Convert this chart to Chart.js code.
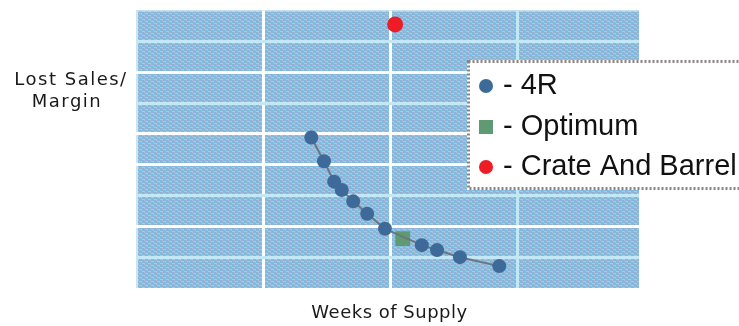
<!DOCTYPE html>
<html><head><meta charset="utf-8">
<style>html,body{margin:0;padding:0;background:#fff;overflow:hidden}#wrap{width:739px;height:326px;position:relative}</style>
<script src="https://cdn.jsdelivr.net/npm/chart.js@4/dist/chart.umd.min.js"></script>
</head><body><div id="wrap"><canvas id="c" width="739" height="326"></canvas></div>
<script>
const seriesNames = ['4R', 'Optimum', 'Crate And Barrel'];
const weeks4R = [1.38, 1.48, 1.56, 1.62, 1.71, 1.82, 1.96, 2.25, 2.37, 2.55, 2.86];
const lost4R  = [4.88, 4.11, 3.45, 3.18, 2.81, 2.41, 1.92, 1.39, 1.23, 1.00, 0.71];
const weeksOptimum = [2.10];
const lostOptimum  = [1.60];
const weeksCrate = [2.04];
const lostCrate  = [8.55];
const xTitle = 'Weeks of Supply';
const yTitleLines = ['Lost Sales/', 'Margin'];

const toPts = (xs, ys) => xs.map((x, i) => ({x: x, y: ys[i]}));

function makePattern(ctx) {
  const p = document.createElement('canvas');
  p.width = 6; p.height = 4;
  const g = p.getContext('2d');
  g.fillStyle = '#84b8da'; g.fillRect(0, 0, 6, 4);
  g.fillStyle = '#94d3ee';
  g.fillRect(1, 1, 3, 1); g.fillRect(4, 3, 2, 1); g.fillRect(0, 3, 1, 1);
  g.fillStyle = '#b5b6d6';
  g.fillRect(0, 0, 1, 1); g.fillRect(3, 2, 1, 1);
  return ctx.createPattern(p, 'repeat');
}

const WHITE = '#ffffff', LIGHT = '#c4e7f6';
const xGrid = {1: WHITE, 2: WHITE, 3: LIGHT};
const yGrid = {1: LIGHT, 2: WHITE, 3: LIGHT, 4: WHITE, 5: WHITE, 6: LIGHT, 7: WHITE, 8: LIGHT};

const background = {
  id: 'background',
  beforeDraw(chart) {
    const {ctx, chartArea: a} = chart;
    ctx.save();
    ctx.fillStyle = makePattern(ctx);
    ctx.fillRect(a.left, a.top, a.right - a.left, a.bottom - a.top);
    ctx.fillStyle = LIGHT;
    ctx.fillRect(a.left, a.top, 2, a.bottom - a.top);
    ctx.fillRect(a.left, a.top, a.right - a.left, 1);
    ctx.restore();
  }
};

const overlay = {
  id: 'overlay',
  afterDraw(chart) {
    const {ctx, chartArea: a} = chart;
    ctx.save();
    ctx.fillStyle = '#1a1a1a';
    ctx.textBaseline = 'alphabetic';
    ctx.textAlign = 'center';
    ctx.font = '18px "DejaVu Sans"';
    ctx.letterSpacing = '0.5px';
    ctx.fillText(xTitle, (a.left + a.right) / 2 + 2, 318);
    ctx.letterSpacing = '1.5px';
    ctx.fillText(yTitleLines[0], 71, 85);
    ctx.fillText(yTitleLines[1], 67, 107);
    ctx.letterSpacing = '0px';

    // legend box
    const bx = 467, by = 60, bw = 280, bh = 130;
    ctx.fillStyle = '#ffffff';
    ctx.fillRect(bx, by, bw, bh);
    ctx.setLineDash([2, 2]);
    ctx.lineWidth = 3;
    ctx.strokeStyle = '#8c8484';
    ctx.strokeRect(bx + 1.5, by + 1.5, bw, bh - 3);
    ctx.setLineDash([]);

    const rows = [86, 127, 167];
    ctx.font = '29px "Liberation Sans"';
    ctx.textAlign = 'left';
    chart.data.datasets.forEach((ds, i) => {
      const y = rows[i];
      ctx.fillStyle = ds.pointBackgroundColor;
      ctx.beginPath();
      if (ds.pointStyle === 'rect') {
        ctx.rect(486 - 7, y - 7, 14, 14);
      } else {
        ctx.arc(486, y, 7, 0, Math.PI * 2);
      }
      ctx.fill();
      ctx.fillStyle = '#111';
      ctx.fillText('- ' + ds.label, 503, y + 8);
    });
    ctx.restore();
  }
};

new Chart(document.getElementById('c'), {
  type: 'scatter',
  data: {
    datasets: [
      {
        label: seriesNames[0],
        data: toPts(weeks4R, lost4R),
        showLine: true,
        borderColor: '#6b7780',
        borderWidth: 2,
        pointStyle: 'circle',
        pointRadius: 7,
        pointBackgroundColor: '#3e6a9a',
        pointBorderColor: '#3e6a9a',
        pointBorderWidth: 0
      },
      {
        label: seriesNames[1],
        data: toPts(weeksOptimum, lostOptimum),
        pointStyle: 'rect',
        pointRadius: 10.5,
        pointBackgroundColor: '#5f9a72',
        pointBorderColor: '#5f9a72',
        pointBorderWidth: 0
      },
      {
        label: seriesNames[2],
        data: toPts(weeksCrate, lostCrate),
        pointStyle: 'circle',
        pointRadius: 8,
        pointBackgroundColor: '#ee1c24',
        pointBorderColor: '#ee1c24',
        pointBorderWidth: 0
      }
    ]
  },
  options: {
    responsive: false,
    animation: false,
    devicePixelRatio: 1,
    layout: {padding: {left: 136, right: 100, top: 9, bottom: 38}},
    plugins: {legend: {display: false}, tooltip: {enabled: false}},
    scales: {
      x: {
        type: 'linear', min: 0, max: 3.96,
        ticks: {display: false, stepSize: 1},
        border: {display: false},
        grid: {drawTicks: false, lineWidth: 3,
          color: c => xGrid[c.tick && c.tick.value] || 'rgba(0,0,0,0)'}
      },
      y: {
        type: 'linear', min: 0, max: 9,
        ticks: {display: false, stepSize: 1},
        border: {display: false},
        grid: {drawTicks: false, lineWidth: 3,
          color: c => yGrid[c.tick && c.tick.value] || 'rgba(0,0,0,0)'}
      }
    }
  },
  plugins: [background, overlay]
});
</script></body></html>
